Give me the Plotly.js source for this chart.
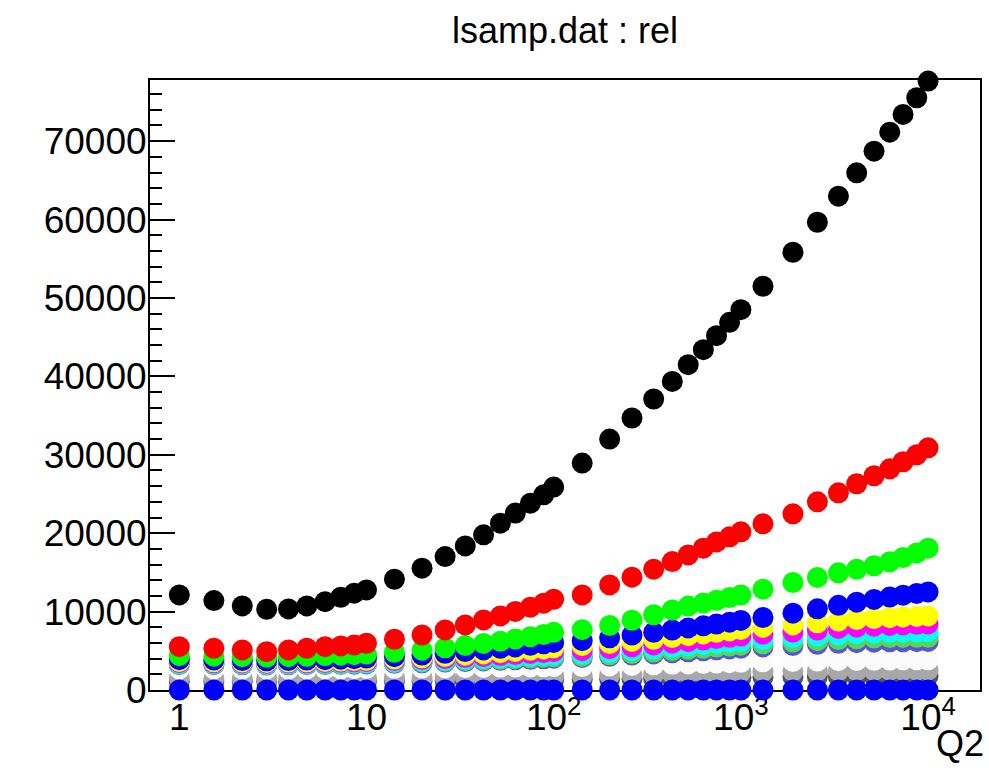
<!DOCTYPE html>
<html>
<head>
<meta charset="utf-8">
<script src="https://cdn.plot.ly/plotly-3.0.1.min.js"></script>
<style>
  html, body { margin: 0; padding: 0; background: #ffffff; }
  #chart { width: 989px; height: 768px; }
</style>
</head>
<body>
<div id="chart"></div>
<script>
// ---- data ----
const q2 = [1, 1.53, 2.17, 2.93, 3.83, 4.8, 6.01, 7.29, 8.6, 10,
            14.1, 19.8, 26.3, 33.7, 42.2, 51.9, 62.4, 75.1, 88.4, 100,
            142, 199, 262, 342, 430, 523, 630, 741, 870, 1000,
            1312, 1897, 2562, 3319, 4156, 5144, 6240, 7350, 8700, 10000];

const relBlack = [12130, 11400, 10720, 10300, 10340, 10720, 11270, 11830, 12350, 12770,
                  14130, 15540, 17020, 18380, 19790, 21280, 22560, 23830, 24890, 25880,
                  28940, 32000, 34690, 37110, 39360, 41490, 43410, 45190, 46890, 48510,
                  51490, 55830, 59660, 62980, 65960, 68720, 71150, 73410, 75540, 77660];

const relRed = [5530, 5320, 5110, 4890, 5110, 5320, 5530, 5620, 5740, 5960,
                6470, 7020, 7660, 8300, 8940, 9450, 10020, 10560, 11070, 11580,
                12130, 13400, 14390, 15410, 16380, 17230, 18090, 18890, 19530, 20170,
                21190, 22470, 24000, 25150, 26300, 27320, 28210, 29110, 30000, 30890];

const relGreen = [4380, 4320, 4250, 4200, 4250, 4310, 4380, 4440, 4510, 4580,
                  4810, 5080, 5380, 5660, 5940, 6220, 6500, 6790, 7080, 7350,
                  7700, 8230, 8900, 9600, 10200, 10700, 11100, 11450, 11800, 12130,
                  12860, 13710, 14360, 14940, 15400, 15850, 16350, 16900, 17480, 18090];

const relBlue = [3870, 3820, 3760, 3720, 3760, 3820, 3870, 3930, 4000, 4070,
                 4250, 4460, 4680, 4900, 5110, 5310, 5500, 5700, 5900, 6070,
                 6290, 6650, 7000, 7350, 7650, 7920, 8180, 8420, 8650, 8880,
                 9250, 9800, 10350, 10800, 11200, 11550, 11850, 12100, 12320, 12510];

const relYellow = [3640, 3600, 3560, 3520, 3560, 3600, 3640, 3690, 3740, 3800,
                   3950, 4110, 4280, 4440, 4600, 4760, 4920, 5080, 5240, 5390,
                   5660, 5930, 6200, 6460, 6700, 6930, 7150, 7350, 7540, 7720,
                   7980, 8300, 8580, 8800, 8990, 9120, 9230, 9320, 9390, 9450];

const relMagenta = [3510, 3480, 3450, 3420, 3450, 3480, 3510, 3550, 3590, 3630,
                    3750, 3880, 4010, 4140, 4270, 4400, 4530, 4660, 4780, 4890,
                    5020, 5270, 5510, 5750, 5970, 6180, 6380, 6560, 6730, 6890,
                    7120, 7400, 7650, 7850, 8010, 8140, 8240, 8320, 8380, 8430];

const relCyan = [3380, 3350, 3320, 3300, 3320, 3350, 3380, 3410, 3450, 3480,
                 3580, 3690, 3800, 3910, 4010, 4110, 4210, 4310, 4410, 4500,
                 4600, 4820, 5030, 5240, 5430, 5610, 5780, 5940, 6090, 6230,
                 6430, 6670, 6880, 7050, 7180, 7280, 7350, 7400, 7420, 7440];

const relDarkGreen = [3320, 3300, 3270, 3250, 3270, 3300, 3320, 3350, 3380, 3410,
                      3490, 3580, 3670, 3760, 3840, 3920, 4000, 4080, 4160, 4230,
                      4300, 4490, 4670, 4850, 5020, 5180, 5330, 5470, 5600, 5720,
                      5900, 6110, 6290, 6430, 6540, 6620, 6680, 6710, 6720, 6730];

const relViolet = [3250, 3230, 3210, 3190, 3210, 3230, 3250, 3270, 3300, 3330,
                   3400, 3480, 3560, 3640, 3710, 3780, 3850, 3920, 3990, 4060,
                   4130, 4290, 4450, 4600, 4740, 4880, 5010, 5130, 5240, 5340,
                   5500, 5680, 5830, 5950, 6040, 6100, 6140, 6155, 6165, 6170];

const relWhite = [2700, 2690, 2680, 2670, 2680, 2690, 2700, 2710, 2720, 2730,
                  2760, 2790, 2820, 2850, 2880, 2900, 2920, 2940, 2960, 2980,
                  3000, 3070, 3140, 3210, 3270, 3330, 3390, 3440, 3490, 3530,
                  3590, 3650, 3700, 3740, 3770, 3800, 3820, 3840, 3850, 3860];

const relGrey = [1500, 1490, 1480, 1470, 1480, 1490, 1500, 1510, 1520, 1530,
                 1560, 1590, 1620, 1650, 1680, 1710, 1740, 1770, 1800, 1820,
                 1860, 1920, 1980, 2040, 2090, 2140, 2190, 2230, 2270, 2300,
                 2340, 2380, 2410, 2440, 2460, 2480, 2500, 2510, 2520, 2530];

const relDarkGrey = [1100, 1095, 1090, 1085, 1090, 1095, 1100, 1105, 1110, 1115,
                     1130, 1150, 1170, 1190, 1210, 1230, 1250, 1270, 1290, 1300,
                     1330, 1370, 1410, 1450, 1480, 1510, 1540, 1570, 1590, 1610,
                     1640, 1670, 1700, 1720, 1740, 1755, 1770, 1780, 1790, 1800];

const relBottom = [0, 0, 0, 0, 0, 0, 0, 0, 0, 0,
                   0, 0, 0, 0, 0, 0, 0, 0, 0, 0,
                   0, 0, 0, 0, 0, 0, 0, 0, 0, 0,
                   0, 0, 0, 0, 0, 0, 0, 0, 0, 0];

const xTickVals = [1, 10, 100, 1000, 10000];
const xTickText = ['1', '10', '10<sup>2</sup>', '10<sup>3</sup>', '10<sup>4</sup>'];

// drawing order: lower series first, higher series on top
const seriesList = [
  {y: relDarkGrey,  color: '#555555'},
  {y: relGrey,      color: '#a8a8a8'},
  {y: relWhite,     color: '#fbfbfb'},
  {y: relViolet,    color: '#5954d8'},
  {y: relDarkGreen, color: '#59d454'},
  {y: relCyan,      color: '#00ffff'},
  {y: relMagenta,   color: '#ff00ff'},
  {y: relYellow,    color: '#ffff00'},
  {y: relBlue,      color: '#0000ff'},
  {y: relGreen,     color: '#00ff00'},
  {y: relRed,       color: '#ff0000'},
  {y: relBlack,     color: '#000000'},
  {y: relBottom,    color: '#0000ff'}
];

const traces = seriesList.map(s => ({
  type: 'scatter',
  mode: 'markers',
  x: q2,
  y: s.y,
  cliponaxis: false,
  marker: {symbol: 'circle', size: 21, color: s.color, line: {width: 0}},
  hoverinfo: 'skip'
}));

const FONT = 'Liberation Sans, Arial, Helvetica, sans-serif';

const layout = {
  width: 989,
  height: 768,
  paper_bgcolor: '#ffffff',
  plot_bgcolor: '#ffffff',
  showlegend: false,
  margin: {l: 150, r: 9, t: 80, b: 78, pad: 0},
  font: {family: FONT, size: 37, color: '#000000'},
  title: {
    text: 'lsamp.dat : rel',
    font: {family: FONT, size: 36, color: '#000000'},
    x: 0.5, xref: 'paper', xanchor: 'center',
    y: 0.96, yref: 'container', yanchor: 'middle'
  },
  xaxis: {
    type: 'log',
    range: [-0.1565, 4.2773],
    tickmode: 'array',
    tickvals: xTickVals,
    ticktext: xTickText,
    ticks: 'inside',
    ticklen: 20,
    tickwidth: 2,
    tickcolor: '#000000',
    showline: true,
    linewidth: 2,
    linecolor: '#000000',
    mirror: true,
    showgrid: false,
    zeroline: false,
    layer: 'below traces',
    ticklabelstandoff: -6,
    tickfont: {family: FONT, size: 37, color: '#000000'}
  },
  yaxis: {
    range: [0, 77800],
    tick0: 0,
    dtick: 10000,
    tickformat: 'd',
    ticks: 'inside',
    ticklen: 25,
    tickwidth: 2,
    tickcolor: '#000000',
    minor: {dtick: 2000, ticks: 'inside', ticklen: 12, tickwidth: 2, tickcolor: '#000000', showgrid: false},
    showline: true,
    linewidth: 2,
    linecolor: '#000000',
    mirror: true,
    showgrid: false,
    zeroline: false,
    layer: 'below traces',
    ticklabelstandoff: -6,
    tickfont: {family: FONT, size: 37, color: '#000000'}
  },
  annotations: [{
    text: 'Q2',
    xref: 'paper', yref: 'paper',
    x: 1.007, y: -0.088,
    xanchor: 'right', yanchor: 'middle',
    showarrow: false,
    font: {family: FONT, size: 36, color: '#000000'}
  }]
};

Plotly.newPlot('chart', traces, layout, {staticPlot: true, displayModeBar: false});
</script>
</body>
</html>
